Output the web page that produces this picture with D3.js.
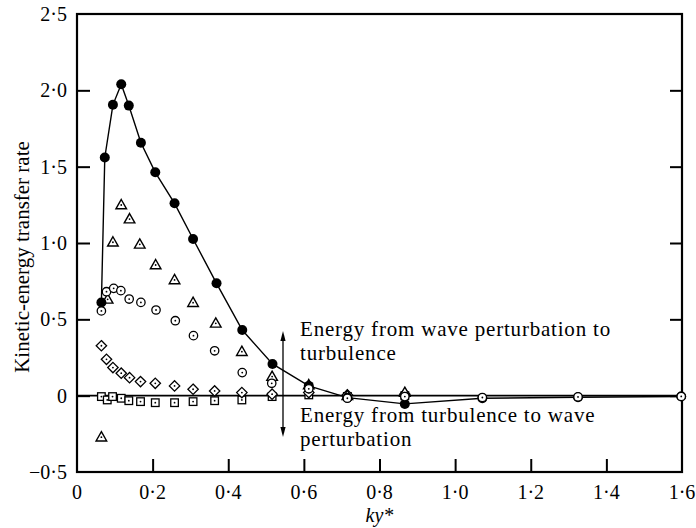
<!DOCTYPE html>
<html><head><meta charset="utf-8">
<script src="https://cdn.jsdelivr.net/npm/d3@7"></script>
<style>
html,body{margin:0;padding:0;background:#fff;}
text{font-family:"Liberation Serif","Times New Roman",serif;fill:#000;}
</style></head>
<body><svg id="c" width="696" height="528"></svg>
<script>
// ---- data ----
const xTicks = [0,0.2,0.4,0.6,0.8,1.0,1.2,1.4,1.6];
const xTickLabels = ["0","0·2","0·4","0·6","0·8","1·0","1·2","1·4","1·6"];
const yTicks = [-0.5,0,0.5,1.0,1.5,2.0,2.5];
const yTickLabels = ["−0·5","0","0·5","1·0","1·5","2·0","2·5"];

const filledX = [0.0645,0.0735,0.095,0.117,0.137,0.169,0.207,0.258,0.307,0.369,0.437,0.517,0.613,0.715,0.867,1.072,1.325,1.598];
const filledY = [0.61,1.56,1.905,2.04,1.90,1.657,1.463,1.26,1.026,0.736,0.43,0.208,0.064,-0.013,-0.054,-0.017,-0.01,-0.005];

const circleX = [0.0645,0.078,0.097,0.116,0.138,0.169,0.209,0.260,0.308,0.364,0.437,0.515,0.613,0.715,0.867,1.072,1.325,1.598];
const circleY = [0.555,0.681,0.703,0.688,0.633,0.611,0.561,0.491,0.393,0.294,0.151,0.081,0.045,-0.017,-0.006,-0.012,-0.008,-0.005];

const triX = [0.0645,0.081,0.095,0.117,0.139,0.166,0.208,0.258,0.307,0.367,0.436,0.516,0.613,0.715,0.867];
const triY = [-0.272,0.631,1.005,1.249,1.157,0.991,0.856,0.758,0.609,0.474,0.288,0.125,0.07,0.0,0.02];

const diaX = [0.0645,0.078,0.095,0.117,0.139,0.168,0.207,0.258,0.307,0.364,0.436,0.516,0.613,0.715,0.867];
const diaY = [0.327,0.238,0.184,0.147,0.118,0.092,0.081,0.064,0.042,0.031,0.02,0.01,0.02,0.005,0.01];

const sqX = [0.0645,0.080,0.094,0.117,0.137,0.168,0.207,0.258,0.307,0.364,0.436,0.516,0.613,0.715,0.867];
const sqY = [-0.006,-0.028,-0.006,-0.017,-0.033,-0.039,-0.046,-0.046,-0.039,-0.033,-0.028,-0.006,0.005,-0.005,0.0];

const annTop = ["Energy from wave perturbation to","turbulence"];
const annBottom = ["Energy from turbulence to wave","perturbation"];

// ---- drawing ----
const svg = d3.select("#c");
const L=77, R=682, T=14, B=472;
const x = d3.scaleLinear().domain([0,1.6]).range([L,R]);
const y = d3.scaleLinear().domain([-0.5,2.5]).range([B,T]);

// zero line
svg.append("line").attr("x1",L).attr("x2",R).attr("y1",y(0)).attr("y2",y(0))
  .attr("stroke","#000").attr("stroke-width",1.6);

// frame
svg.append("rect").attr("x",L).attr("y",T).attr("width",R-L).attr("height",B-T)
  .attr("fill","none").attr("stroke","#000").attr("stroke-width",2.2);

// axes with inward ticks
const xa = svg.append("g").attr("transform",`translate(0,${B})`)
  .call(d3.axisBottom(x).tickValues(xTicks.slice(1,-1)).tickSize(-13).tickFormat(""));
const ya = svg.append("g").attr("transform",`translate(${L},0)`)
  .call(d3.axisLeft(y).tickValues(yTicks.slice(1,-1)).tickSize(-13).tickFormat(""));
const yr = svg.append("g").attr("transform",`translate(${R},0)`)
  .call(d3.axisRight(y).tickValues(yTicks.slice(1,-1)).tickSize(-12).tickFormat(""));
[xa,ya,yr].forEach(g=>{g.select(".domain").remove();g.selectAll(".tick line").attr("stroke","#000").attr("stroke-width",2);});

// tick labels
svg.append("g").selectAll("text").data(xTicks).join("text")
  .attr("x",d=>x(d)).attr("y",B+27).attr("text-anchor","middle")
  .attr("font-size",20).text((d,i)=>xTickLabels[i]);
svg.append("g").selectAll("text").data(yTicks).join("text")
  .attr("x",L-10).attr("y",d=>y(d)).attr("dy","0.35em").attr("text-anchor","end")
  .attr("font-size",20).text((d,i)=>yTickLabels[i]);

// axis titles
svg.append("text").attr("x",(L+R)/2).attr("y",522).attr("text-anchor","middle")
  .attr("font-size",20).attr("font-style","italic").text("ky*");
svg.append("text").attr("transform",`translate(29,${(T+B)/2+14}) rotate(-90)`)
  .attr("text-anchor","middle").attr("font-size",21).text("Kinetic-energy transfer rate");

// filled series line
const line = d3.line().x(d=>x(d[0])).y(d=>y(d[1]));
const filled = filledX.map((v,i)=>[v,filledY[i]]);
svg.append("path").datum(filled).attr("d",line).attr("fill","none")
  .attr("stroke","#000").attr("stroke-width",1.4);

const zip=(a,b)=>a.map((v,i)=>[v,b[i]]);
const gM = svg.append("g");
function dots(sel){ sel.append("circle").attr("cx",d=>x(d[0])).attr("cy",d=>y(d[1])).attr("r",0.9).attr("fill","#000"); }

// squares
const sq = gM.append("g").selectAll("g").data(zip(sqX,sqY)).join("g");
sq.append("rect").attr("x",d=>x(d[0])-3.8).attr("y",d=>y(d[1])-3.8).attr("width",7.6).attr("height",7.6)
  .attr("fill","#fff").attr("stroke","#000").attr("stroke-width",1.3);
dots(sq);
// diamonds
const di = gM.append("g").selectAll("g").data(zip(diaX,diaY)).join("g");
di.append("path").attr("d",d=>{const cx=x(d[0]),cy=y(d[1]),s=5.2;return `M${cx},${cy-s}L${cx+s},${cy}L${cx},${cy+s}L${cx-s},${cy}Z`;})
  .attr("fill","#fff").attr("stroke","#000").attr("stroke-width",1.3);
dots(di);
// triangles
const tr = gM.append("g").selectAll("g").data(zip(triX,triY)).join("g");
tr.append("path").attr("d",d=>{const cx=x(d[0]),cy=y(d[1]);return `M${cx},${cy-5.5}L${cx+5.3},${cy+3.8}L${cx-5.3},${cy+3.8}Z`;})
  .attr("fill","#fff").attr("stroke","#000").attr("stroke-width",1.4);
dots(tr);
// filled circles
gM.append("g").selectAll("circle").data(filled).join("circle")
  .attr("cx",d=>x(d[0])).attr("cy",d=>y(d[1])).attr("r",5).attr("fill","#000");
// open circles
const oc = gM.append("g").selectAll("g").data(zip(circleX,circleY)).join("g");
oc.append("circle").attr("cx",d=>x(d[0])).attr("cy",d=>y(d[1])).attr("r",4.2)
  .attr("fill","#fff").attr("stroke","#000").attr("stroke-width",1.3);
dots(oc);

// annotation arrow
const ax = 283, ay1 = 331, ay2 = 437;
svg.append("line").attr("x1",ax).attr("x2",ax).attr("y1",ay1+6).attr("y2",ay2-6)
  .attr("stroke","#000").attr("stroke-width",1.3);
svg.append("path").attr("d",`M${ax},${ay1}L${ax+2.6},${ay1+10}L${ax-2.6},${ay1+10}Z`).attr("fill","#000");
svg.append("path").attr("d",`M${ax},${ay2}L${ax+2.6},${ay2-10}L${ax-2.6},${ay2-10}Z`).attr("fill","#000");

svg.append("g").selectAll("text").data(annTop).join("text")
  .attr("x",300).attr("y",(d,i)=>336+i*23.5).attr("font-size",21).attr("letter-spacing",0.8).text(d=>d);
svg.append("g").selectAll("text").data(annBottom).join("text")
  .attr("x",300).attr("y",(d,i)=>422+i*23.5).attr("font-size",21).attr("letter-spacing",0.8).text(d=>d);
</script></body></html>
